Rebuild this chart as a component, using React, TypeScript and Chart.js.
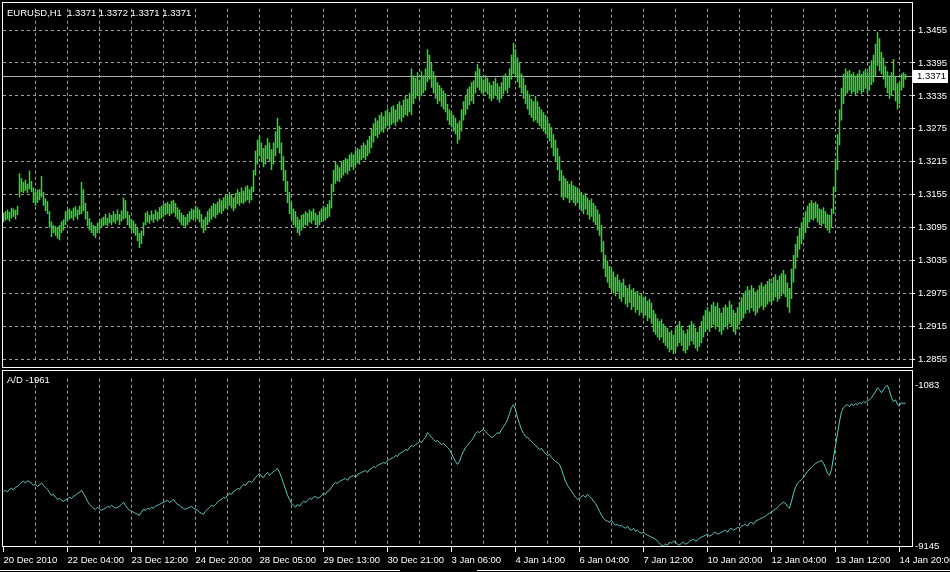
import React, { useEffect, useRef } from 'react';
import { Chart, registerables } from 'chart.js';

Chart.register(...registerables);

const symbolTitle = 'EURUSD,H1  1.3371 1.3372 1.3371 1.3371';
const bidPrice = 1.3371;
const bidLabel = '1.3371';
const indicatorTitle = 'A/D -1961';

const priceTicks = [1.3455, 1.3395, 1.3335, 1.3275, 1.3215, 1.3155, 1.3095, 1.3035, 1.2975, 1.2915, 1.2855];
const adTicks = [-1083, -9145];

const timeLabels = [
  '20 Dec 2010', '22 Dec 04:00', '23 Dec 12:00', '24 Dec 20:00', '28 Dec 05:00',
  '29 Dec 13:00', '30 Dec 21:00', '3 Jan 06:00', '4 Jan 14:00', '6 Jan 04:00',
  '7 Jan 12:00', '10 Jan 20:00', '12 Jan 04:00', '13 Jan 12:00', '14 Jan 20:00',
];

const barLows = [
  1.3105,1.3108,1.3110,1.3106,1.3112,1.3115,1.3110,1.3118,
  1.3150,1.3160,1.3158,1.3162,1.3158,1.3165,1.3160,
  1.3140,1.3135,1.3140,1.3145,1.3150,1.3135,1.3125,
  1.3120,1.3095,1.3078,1.3085,1.3080,1.3075,1.3072,1.3085,1.3090,
  1.3100,1.3108,1.3110,1.3112,1.3108,1.3115,1.3110,1.3118,1.3120,
  1.3125,1.3110,1.3098,1.3090,1.3085,1.3080,1.3076,1.3085,1.3090,
  1.3095,1.3098,1.3100,1.3097,1.3103,1.3100,1.3105,1.3102,1.3108,1.3100,1.3106,1.3110,
  1.3112,1.3100,1.3095,1.3090,1.3085,1.3080,
  1.3070,1.3058,1.3065,1.3080,
  1.3100,1.3105,1.3102,1.3108,1.3104,1.3110,1.3106,1.3110,1.3112,
  1.3115,1.3118,1.3120,1.3116,1.3120,1.3122,1.3115,1.3110,1.3105,1.3100,1.3098,1.3094,1.3100,1.3105,1.3110,1.3108,1.3112,1.3110,1.3105,
  1.3095,1.3085,1.3090,1.3100,
  1.3105,1.3110,1.3115,1.3112,1.3118,1.3122,1.3120,1.3125,1.3130,1.3128,1.3135,1.3130,1.3125,1.3130,1.3138,1.3135,1.3140,1.3138,1.3142,1.3145,1.3140,1.3145,
  1.3160,1.3190,1.3210,1.3225,1.3215,1.3205,1.3210,1.3220,1.3215,1.3200,1.3210,1.3225,1.3240,1.3230,
  1.3200,1.3180,1.3160,1.3140,1.3120,1.3110,1.3100,1.3095,1.3085,1.3080,
  1.3090,1.3095,1.3100,1.3098,1.3105,1.3102,1.3108,1.3100,1.3095,1.3100,1.3105,1.3110,1.3108,1.3112,1.3115,
  1.3130,1.3160,1.3175,1.3180,1.3178,1.3185,
  1.3190,1.3195,1.3192,1.3198,1.3205,1.3200,1.3208,1.3212,1.3210,1.3218,1.3222,1.3218,1.3225,1.3230,
  1.3240,1.3250,1.3262,1.3258,1.3265,1.3270,1.3268,1.3275,1.3280,1.3276,1.3282,1.3285,1.3280,1.3288,1.3292,1.3288,1.3295,1.3300,1.3298,1.3305,
  1.3300,1.3320,1.3330,1.3335,1.3328,1.3335,1.3340,1.3345,1.3360,1.3365,1.3350,
  1.3340,1.3330,1.3320,1.3325,1.3315,1.3310,1.3305,
  1.3290,1.3282,1.3278,1.3270,1.3265,
  1.3248,1.3255,1.3270,
  1.3290,1.3300,1.3310,1.3318,1.3325,1.3320,
  1.3340,1.3350,1.3345,
  1.3340,1.3335,1.3342,1.3338,1.3330,1.3325,1.3330,1.3335,1.3328,1.3323,1.3330,1.3338,1.3345,1.3340,1.3350,
  1.3365,1.3375,1.3370,1.3360,1.3350,
  1.3340,1.3330,1.3320,1.3310,1.3300,1.3295,1.3288,
  1.3290,1.3285,1.3280,1.3275,1.3270,1.3265,1.3258,1.3252,1.3240,
  1.3225,1.3215,1.3200,1.3180,
  1.3150,1.3145,1.3150,1.3148,1.3140,1.3145,1.3140,1.3135,1.3140,1.3130,
  1.3125,1.3120,1.3128,1.3118,1.3110,1.3115,1.3105,1.3100,1.3090,1.3080,
  1.3050,1.3020,1.3005,1.2995,1.2985,1.2980,
  1.2975,1.2970,1.2978,1.2965,1.2960,1.2968,1.2955,1.2950,1.2958,1.2945,1.2950,1.2940,1.2945,1.2935,1.2940,1.2930,1.2935,1.2925,1.2930,1.2920,
  1.2905,1.2900,1.2895,1.2890,1.2895,1.2885,1.2880,1.2875,
  1.2868,1.2872,1.2865,1.2870,1.2878,1.2885,1.2880,1.2870,1.2866,1.2872,1.2880,1.2888,1.2882,1.2875,1.2870,1.2878,1.2885,
  1.2895,1.2905,1.2910,1.2905,1.2912,1.2918,1.2910,1.2915,1.2905,1.2900,1.2908,1.2915,1.2910,1.2920,1.2915,1.2905,1.2900,1.2910,1.2918,1.2925,
  1.2930,1.2938,1.2945,1.2940,1.2948,1.2942,1.2935,1.2940,1.2948,1.2952,1.2945,1.2950,1.2955,1.2960,1.2955,1.2962,1.2968,1.2960,1.2965,1.2970,1.2975,1.2968,1.2950,1.2940,
  1.2965,1.2995,1.3020,1.3040,1.3055,1.3065,1.3075,1.3085,
  1.3095,1.3105,1.3110,1.3108,1.3112,1.3105,1.3100,1.3098,1.3102,1.3095,1.3090,1.3085,1.3095,
  1.3120,1.3160,1.3200,1.3245,1.3290,1.3320,1.3335,
  1.3340,1.3345,1.3338,1.3342,1.3335,1.3340,1.3345,1.3338,1.3342,1.3348,1.3340,1.3345,1.3355,
  1.3360,1.3370,1.3390,1.3380,
  1.3375,1.3365,1.3350,1.3340,1.3330,1.3335,1.3345,1.3325,1.3310,1.3320,1.3345,1.3350,1.3365,
];

const barHighs = [
  1.3122,1.3125,1.3128,1.3124,1.3131,1.3130,1.3127,1.3135,
  1.3194,1.3185,1.3178,1.3182,1.3175,1.3199,1.3180,
  1.3168,1.3160,1.3164,1.3165,1.3189,1.3160,1.3148,
  1.3143,1.3125,1.3106,1.3100,1.3098,1.3095,1.3100,1.3106,1.3110,
  1.3125,1.3128,1.3130,1.3126,1.3131,1.3134,1.3128,1.3135,1.3178,
  1.3165,1.3140,1.3125,1.3112,1.3105,1.3100,1.3098,1.3104,1.3108,
  1.3112,1.3115,1.3120,1.3113,1.3122,1.3118,1.3125,1.3120,1.3128,1.3120,1.3126,1.3150,
  1.3145,1.3125,1.3118,1.3110,1.3108,1.3102,
  1.3095,1.3085,1.3090,1.3105,
  1.3122,1.3125,1.3118,1.3126,1.3120,1.3128,1.3124,1.3132,1.3135,
  1.3138,1.3140,1.3142,1.3138,1.3144,1.3146,1.3140,1.3132,1.3128,1.3122,1.3118,1.3115,1.3120,1.3125,1.3130,1.3128,1.3135,1.3132,1.3128,
  1.3120,1.3110,1.3115,1.3125,
  1.3130,1.3135,1.3140,1.3138,1.3142,1.3148,1.3145,1.3150,1.3155,1.3152,1.3160,1.3156,1.3150,1.3158,1.3165,1.3160,1.3168,1.3162,1.3170,1.3172,1.3165,1.3170,
  1.3200,1.3235,1.3255,1.3262,1.3250,1.3240,1.3245,1.3258,1.3250,1.3238,1.3250,1.3270,1.3295,1.3280,
  1.3250,1.3225,1.3200,1.3180,1.3160,1.3140,1.3130,1.3125,1.3115,1.3110,
  1.3118,1.3120,1.3125,1.3122,1.3128,1.3125,1.3130,1.3122,1.3118,1.3125,1.3130,1.3135,1.3132,1.3138,1.3145,
  1.3175,1.3200,1.3215,1.3210,1.3205,1.3215,
  1.3218,1.3222,1.3220,1.3228,1.3232,1.3228,1.3236,1.3240,1.3238,1.3245,1.3250,1.3246,1.3255,1.3262,
  1.3275,1.3285,1.3295,1.3290,1.3300,1.3305,1.3298,1.3308,1.3312,1.3305,1.3315,1.3318,1.3310,1.3320,1.3325,1.3318,1.3328,1.3335,1.3330,1.3340,
  1.3385,1.3372,1.3368,1.3378,1.3365,1.3380,1.3372,1.3385,1.3420,1.3410,1.3395,
  1.3380,1.3372,1.3360,1.3355,1.3350,1.3345,1.3340,
  1.3320,1.3310,1.3305,1.3300,1.3295,
  1.3285,1.3290,1.3310,
  1.3325,1.3335,1.3348,1.3352,1.3360,1.3363,
  1.3380,1.3393,1.3385,
  1.3370,1.3365,1.3372,1.3368,1.3360,1.3355,1.3362,1.3368,1.3358,1.3352,1.3360,1.3372,1.3376,1.3370,1.3385,
  1.3410,1.3432,1.3420,1.3405,1.3395,
  1.3376,1.3368,1.3355,1.3345,1.3338,1.3330,1.3325,
  1.3335,1.3325,1.3315,1.3310,1.3305,1.3300,1.3292,1.3285,1.3278,
  1.3265,1.3255,1.3240,1.3225,
  1.3200,1.3190,1.3185,1.3180,1.3175,1.3180,1.3172,1.3170,1.3168,1.3162,
  1.3160,1.3155,1.3158,1.3150,1.3145,1.3148,1.3140,1.3135,1.3128,1.3120,
  1.3100,1.3070,1.3045,1.3035,1.3025,1.3020,
  1.3015,1.3005,1.3010,1.3000,1.2995,1.3002,1.2990,1.2985,1.2992,1.2982,1.2985,1.2978,1.2980,1.2972,1.2975,1.2968,1.2970,1.2962,1.2965,1.2958,
  1.2945,1.2938,1.2930,1.2925,1.2928,1.2920,1.2915,1.2912,
  1.2905,1.2908,1.2900,1.2912,1.2918,1.2925,1.2915,1.2908,1.2902,1.2910,1.2918,1.2925,1.2920,1.2912,1.2905,1.2915,1.2925,
  1.2935,1.2945,1.2950,1.2942,1.2955,1.2960,1.2952,1.2958,1.2948,1.2940,1.2950,1.2955,1.2950,1.2962,1.2955,1.2945,1.2940,1.2950,1.2960,1.2968,
  1.2975,1.2980,1.2988,1.2982,1.2990,1.2985,1.2978,1.2982,1.2990,1.2995,1.2988,1.2992,1.2998,1.3002,1.2995,1.3005,1.3010,1.3000,1.3008,1.3012,1.3018,1.3010,1.2995,1.2985,
  1.3020,1.3045,1.3065,1.3080,1.3095,1.3105,1.3115,1.3125,
  1.3135,1.3140,1.3145,1.3140,1.3142,1.3138,1.3130,1.3128,1.3132,1.3125,1.3120,1.3118,1.3130,
  1.3170,1.3220,1.3265,1.3310,1.3350,1.3375,1.3385,
  1.3380,1.3382,1.3375,1.3378,1.3372,1.3376,1.3382,1.3375,1.3380,1.3385,1.3378,1.3390,1.3400,
  1.3410,1.3430,1.3452,1.3440,
  1.3415,1.3405,1.3390,1.3380,1.3372,1.3378,1.3402,1.3370,1.3358,1.3360,1.3376,1.3378,1.3375,
];

const adValues = [
  -6400,-6350,-6420,-6300,-6250,-6320,-6200,-6150,-6050,-5950,
  -5900,-5980,-5870,-5920,-6000,-6100,-6050,-6150,-6080,-5980,
  -6100,-6200,-6300,-6450,-6600,-6550,-6700,-6800,-6750,-6850,
  -6900,-6820,-6780,-6700,-6750,-6650,-6600,-6500,-6450,-6350,
  -6500,-6700,-6900,-7050,-7150,-7250,-7300,-7200,-7280,-7350,
  -7300,-7250,-7150,-7200,-7100,-7180,-7250,-7200,-7150,-7050,
  -6950,-7100,-7250,-7350,-7400,-7450,-7500,-7550,-7600,-7450,
  -7300,-7350,-7250,-7300,-7200,-7250,-7150,-7100,-7050,-7000,
  -6950,-6900,-6850,-6950,-6900,-6800,-6950,-7050,-7100,-7200,
  -7250,-7300,-7250,-7200,-7150,-7250,-7300,-7350,-7450,-7500,
  -7550,-7400,-7300,-7200,-7100,-7150,-7050,-6950,-6850,-6800,
  -6700,-6750,-6600,-6500,-6550,-6400,-6350,-6250,-6300,-6150,
  -6050,-6100,-5950,-5900,-5950,-5850,-5700,-5600,-5500,-5650,
  -5700,-5550,-5450,-5600,-5500,-5400,-5350,-5250,-5450,-5700,
  -6000,-6300,-6600,-6800,-7000,-7100,-7200,-7050,-7150,-7000,
  -6900,-6950,-6850,-6750,-6800,-6700,-6650,-6750,-6700,-6600,
  -6500,-6550,-6400,-6350,-6200,-6050,-5950,-6000,-5900,-5850,
  -5800,-5750,-5850,-5700,-5650,-5600,-5700,-5550,-5500,-5450,
  -5400,-5350,-5450,-5300,-5250,-5150,-5200,-5100,-5050,-5000,
  -4950,-5000,-4850,-4800,-4750,-4700,-4600,-4650,-4500,-4450,
  -4400,-4300,-4350,-4200,-4100,-4150,-4050,-4000,-3900,-3950,
  -3800,-3700,-3450,-3550,-3700,-3800,-3900,-3850,-3950,-4050,
  -4000,-4100,-4200,-4300,-4500,-4700,-4900,-5050,-4900,-4600,
  -4400,-4200,-4100,-3950,-3850,-3700,-3500,-3400,-3450,-3350,
  -3300,-3400,-3500,-3600,-3700,-3650,-3550,-3450,-3500,-3300,
  -3150,-3000,-2800,-2500,-2200,-2050,-2300,-2700,-3000,-3300,
  -3500,-3650,-3700,-3800,-3900,-4000,-4100,-4200,-4300,-4250,
  -4400,-4500,-4600,-4550,-4700,-4800,-4900,-4950,-5050,-5300,
  -5600,-5900,-6100,-6250,-6400,-6550,-6700,-6800,-6750,-6650,
  -6600,-6700,-6550,-6650,-6750,-6900,-7000,-7200,-7400,-7600,
  -7750,-7850,-7900,-7950,-7850,-8000,-8100,-8050,-8150,-8100,
  -8200,-8250,-8150,-8300,-8350,-8250,-8400,-8350,-8450,-8500,
  -8450,-8550,-8600,-8650,-8700,-8750,-8800,-8900,-9000,-9100,
  -9145,-9050,-9100,-8950,-9000,-8900,-8950,-9050,-9100,-9000,
  -8950,-9050,-9000,-8900,-8850,-8800,-8900,-8850,-8750,-8700,
  -8650,-8600,-8550,-8650,-8600,-8500,-8450,-8550,-8500,-8450,
  -8400,-8350,-8450,-8300,-8250,-8350,-8300,-8200,-8250,-8150,
  -8100,-8050,-8150,-8000,-7950,-8050,-7900,-7850,-7800,-7750,
  -7700,-7650,-7550,-7500,-7450,-7350,-7300,-7200,-7100,-7000,
  -6950,-7000,-7150,-7250,-6900,-6500,-6200,-6000,-5900,-5800,
  -5700,-5550,-5400,-5300,-5200,-5100,-5000,-4950,-4900,-4850,
  -5000,-5200,-5500,-5600,-5300,-4700,-4100,-3500,-2900,-2400,
  -2200,-2100,-2050,-2150,-2000,-2100,-2000,-2050,-1950,-2000,
  -1900,-1950,-1850,-1800,-1700,-1550,-1400,-1200,-1300,-1450,
  -1300,-1150,-1083,-1350,-1700,-1900,-1800,-2050,-2100,-1950,
  -2000,-1961,
];

const FONT = '"Liberation Sans", Arial, sans-serif';
const FONT_SIZE = 9.5;
const GRID = '#a0a0a0';
const BAR_COLOR = 'rgb(50, 215, 50)';
const AD_COLOR = '#6cc4c0';
const BARS_PER_LABEL = 32;
const BARS_PER_GRID = 16;
const X_MIN = -0.25;
const X_MAX = 454.25;

const gridTicks = (from: number) => {
  const out: { value: number }[] = [];
  for (let v = from; v <= (timeLabels.length - 1) * BARS_PER_LABEL; v += BARS_PER_GRID) out.push({ value: v });
  return out;
};

const mainDecor = {
  id: 'mainDecor',
  beforeDatasetsDraw(chart: any) {
    const { ctx, chartArea, scales } = chart;
    const y = Math.round(scales.y.getPixelForValue(bidPrice)) + 0.5;
    ctx.save();
    ctx.strokeStyle = '#b0b0b0';
    ctx.lineWidth = 1;
    ctx.beginPath();
    ctx.moveTo(chartArea.left, y);
    ctx.lineTo(chartArea.right, y);
    ctx.stroke();
    ctx.restore();
  },
  afterDraw(chart: any) {
    const { ctx, scales } = chart;
    ctx.save();
    ctx.strokeStyle = '#ffffff';
    ctx.lineWidth = 1;
    ctx.strokeRect(2.5, 2.5, 910, 365);
    const y = Math.round(scales.y.getPixelForValue(bidPrice));
    ctx.fillStyle = '#ffffff';
    ctx.fillRect(912, y - 6, 36, 13);
    ctx.fillStyle = '#000000';
    ctx.font = `${FONT_SIZE}px ${FONT}`;
    ctx.textBaseline = 'middle';
    ctx.fillText(bidLabel, 917, y + 0.5);
    ctx.fillStyle = '#ffffff';
    ctx.fillText(symbolTitle, 7, 13);
    ctx.restore();
  },
};

const indDecor = {
  id: 'indDecor',
  afterDraw(chart: any) {
    const { ctx } = chart;
    ctx.save();
    ctx.strokeStyle = '#ffffff';
    ctx.lineWidth = 1;
    ctx.strokeRect(2.5, 0.5, 910, 176);
    ctx.beginPath();
    ctx.moveTo(0, 200.5);
    ctx.lineTo(400, 200.5);
    ctx.moveTo(477, 200.5);
    ctx.lineTo(950, 200.5);
    ctx.stroke();
    ctx.fillStyle = '#ffffff';
    ctx.font = `${FONT_SIZE}px ${FONT}`;
    ctx.textBaseline = 'middle';
    ctx.fillText(indicatorTitle, 7, 10);
    ctx.restore();
  },
};

export default function App() {
  const mainRef = useRef<HTMLCanvasElement>(null);
  const indRef = useRef<HTMLCanvasElement>(null);

  useEffect(() => {
    Chart.defaults.font.family = FONT;
    Chart.defaults.font.size = FONT_SIZE;

    // each bar = one vertical segment low -> high, separated by gaps
    const barSegments: { x: number; y: number | null }[] = [];
    barLows.forEach((lo, i) => {
      barSegments.push({ x: i, y: lo }, { x: i, y: barHighs[i] }, { x: i, y: null });
    });
    const adPoints = adValues.map((v, i) => ({ x: i, y: v }));

    const main = new Chart(mainRef.current as HTMLCanvasElement, {
      type: 'line',
      data: {
        datasets: [
          {
            data: barSegments as any,
            borderColor: BAR_COLOR,
            backgroundColor: BAR_COLOR,
            borderWidth: 1.5,
            borderCapStyle: 'butt',
            pointRadius: 0,
            tension: 0,
            fill: false,
            spanGaps: false,
          } as any,
        ],
      },
      options: {
        responsive: false,
        animation: false,
        devicePixelRatio: 1,
        events: [],
        layout: { padding: { left: 3, top: 3, bottom: 3, right: 0 } },
        plugins: { legend: { display: false }, tooltip: { enabled: false } },
        scales: {
          x: {
            type: 'linear',
            min: X_MIN,
            max: X_MAX,
            offset: false,
            afterBuildTicks: (s: any) => { s.ticks = gridTicks(BARS_PER_GRID); },
            afterFit: (s: any) => { s.height = 0; s.paddingLeft = 0; s.paddingRight = 0; },
            ticks: { display: false },
            grid: { offset: false, color: GRID, lineWidth: 1, drawTicks: false },
            border: { display: false, dash: [3, 3] },
          },
          y: {
            type: 'linear',
            position: 'right',
            min: 1.28515,
            max: 1.349382,
            afterBuildTicks: (s: any) => { s.ticks = priceTicks.map((v) => ({ value: v })); },
            afterFit: (s: any) => { s.width = 38; },
            ticks: {
              color: '#ffffff',
              padding: 3,
              callback: (v: any) => Number(v).toFixed(4),
            },
            grid: { color: GRID, lineWidth: 1, drawTicks: true, tickLength: 3, tickColor: '#ffffff', tickBorderDash: [] },
            border: { display: false, dash: [3, 3] },
          },
        },
      } as any,
      plugins: [mainDecor],
    });

    const ind = new Chart(indRef.current as HTMLCanvasElement, {
      type: 'line',
      data: {
        datasets: [
          {
            data: adPoints as any,
            borderColor: AD_COLOR,
            borderWidth: 1,
            pointRadius: 0,
            tension: 0,
            fill: false,
          },
        ],
      },
      options: {
        responsive: false,
        animation: false,
        devicePixelRatio: 1,
        events: [],
        layout: { padding: { left: 3, top: 1, bottom: 0, right: 0 } },
        plugins: { legend: { display: false }, tooltip: { enabled: false } },
        scales: {
          x: {
            type: 'linear',
            min: X_MIN,
            max: X_MAX,
            offset: false,
            afterBuildTicks: (s: any) => { s.ticks = gridTicks(0); },
            afterFit: (s: any) => { s.height = 25; s.paddingLeft = 0; s.paddingRight = 0; },
            ticks: {
              color: '#ffffff',
              align: 'start',
              autoSkip: false,
              maxRotation: 0,
              minRotation: 0,
              padding: 3,
              callback: (v: any) => {
                const n = Number(v);
                return n % BARS_PER_LABEL === 0 ? timeLabels[n / BARS_PER_LABEL] : '';
              },
            },
            grid: {
              offset: false,
              lineWidth: 1,
              color: (c: any) => (c.tick && c.tick.value === 0 ? 'rgba(0,0,0,0)' : GRID),
              drawTicks: true,
              tickLength: 5,
              tickBorderDash: [],
              tickColor: (c: any) => (c.tick && c.tick.value % BARS_PER_LABEL === 0 ? '#ffffff' : 'rgba(0,0,0,0)'),
            },
            border: { display: false, dash: [3, 3] },
          },
          y: {
            type: 'linear',
            position: 'right',
            min: -9193,
            max: -745,
            afterBuildTicks: (s: any) => { s.ticks = adTicks.map((v) => ({ value: v })); },
            afterFit: (s: any) => { s.width = 38; },
            ticks: { color: '#ffffff', padding: 3, callback: (v: any) => String(v) },
            grid: { drawOnChartArea: false, drawTicks: false },
            border: { display: false },
          },
        },
      } as any,
      plugins: [indDecor],
    });

    return () => {
      main.destroy();
      ind.destroy();
    };
  }, []);

  return (
    <div style={{ position: 'absolute', left: 0, top: 0, width: 950, height: 572, background: '#000', overflow: 'hidden' }}>
      <canvas ref={mainRef} width={950} height={370} style={{ position: 'absolute', left: 0, top: 0, width: 950, height: 370 }} />
      <canvas ref={indRef} width={950} height={202} style={{ position: 'absolute', left: 0, top: 370, width: 950, height: 202 }} />
    </div>
  );
}
